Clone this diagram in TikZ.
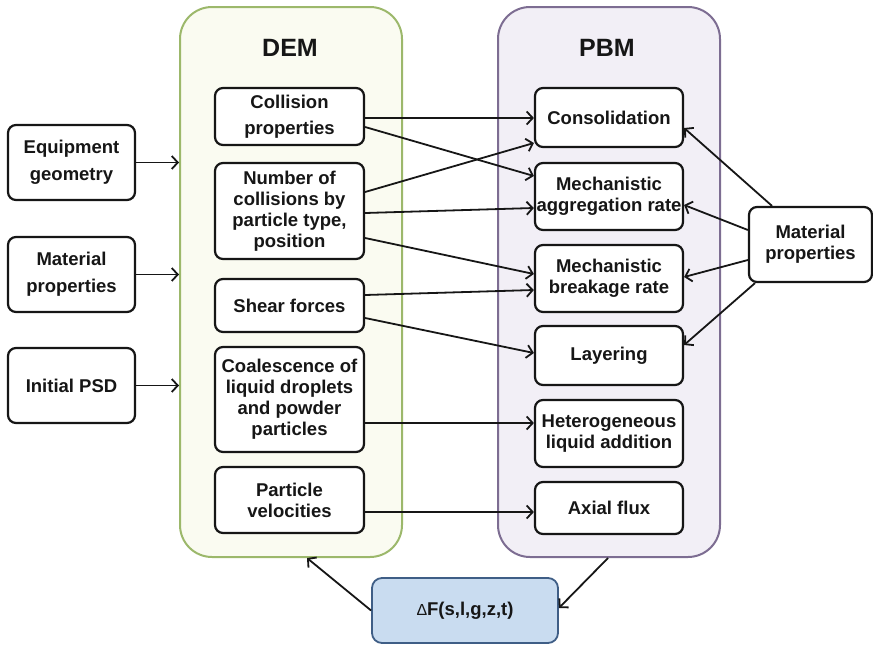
\documentclass[tikz,border=0pt]{standalone}
\usepackage{fontspec}
\setmainfont{Liberation Sans}
\usetikzlibrary{arrows.meta}
\definecolor{demborder}{HTML}{9CB86B}
\definecolor{demfill}{HTML}{FAFBF1}
\definecolor{pbmborder}{HTML}{7D6D92}
\definecolor{pbmfill}{HTML}{F2EFF6}
\definecolor{dfborder}{HTML}{3F5E86}
\definecolor{dffill}{HTML}{C9DCF0}
\definecolor{ink}{HTML}{161616}
\tikzset{
  box/.style={draw=ink, line width=2.2pt, rounded corners=8pt, fill=white, align=center,
    inner sep=0pt, text=ink, font=\bfseries\fontsize{18.5}{21}\selectfont},
  container/.style={line width=2pt, rounded corners=32pt, inner sep=0pt},
  title/.style={text=ink, font=\bfseries\fontsize{25}{30}\selectfont, inner sep=0pt},
  conn/.style={draw=ink, line width=1.8pt, -{Straight Barb[length=6pt,width=13pt,line width=1.8pt]}},
}
\begin{document}
\begin{tikzpicture}[x=1pt,y=-1pt]
\useasboundingbox (0,0) rectangle (873,645);
% containers
\node[container, draw=demborder, fill=demfill, minimum width=222pt, minimum height=550pt] (dem) at (291,282) {};
\node[container, draw=pbmborder, fill=pbmfill, minimum width=222pt, minimum height=550pt] (pbm) at (609,282) {};
\node[title] (demt) at (290,48) {DEM};
\node[title] (pbmt) at (607,48) {PBM};
% left inputs
\node[box, minimum width=127pt, minimum height=75pt, font=\bfseries\fontsize{18.5}{27}\selectfont] (eq) at (71.5,162.5) {Equipment\\geometry};
\node[box, minimum width=127pt, minimum height=75pt, font=\bfseries\fontsize{18.5}{27}\selectfont] (mat) at (71.5,274.5) {Material\\properties};
\node[box, minimum width=127pt, minimum height=75pt] (psd) at (71.5,385.5) {Initial PSD};
% DEM inner boxes
\node[box, minimum width=149pt, minimum height=57pt, font=\bfseries\fontsize{18.5}{26}\selectfont] (coll) at (289.5,116.5) {Collision\\properties};
\node[box, minimum width=149pt, minimum height=96pt] (num) at (289.5,211) {Number of\\collisions by\\particle type,\\position};
\node[box, minimum width=149pt, minimum height=53pt] (shear) at (289.5,305.5) {Shear forces};
\node[box, minimum width=149pt, minimum height=105pt] (coal) at (289.5,399.5) {Coalescence of\\liquid droplets\\and powder\\particles};
\node[box, minimum width=149pt, minimum height=66pt] (vel) at (289.5,500) {Particle\\velocities};
% PBM inner boxes
\node[box, minimum width=148pt, minimum height=59pt] (cons) at (609,117.5) {Consolidation};
\node[box, minimum width=148pt, minimum height=67pt] (agg) at (609,196.5) {Mechanistic\\aggregation rate};
\node[box, minimum width=148pt, minimum height=67pt] (brk) at (609,278.5) {Mechanistic\\breakage rate};
\node[box, minimum width=148pt, minimum height=59pt] (lay) at (609,355.5) {Layering};
\node[box, minimum width=148pt, minimum height=67pt] (het) at (609,433.5) {Heterogeneous\\liquid addition};
\node[box, minimum width=148pt, minimum height=52pt] (ax) at (609,508) {Axial flux};
% right input
\node[box, minimum width=123pt, minimum height=75pt] (mp) at (810.5,244.5) {Material\\properties};
% feedback box
\node[box, draw=dfborder, fill=dffill, minimum width=186pt, minimum height=65pt, line width=1.8pt, rounded corners=10pt] (df) at (465,610.5) {{\mdseries\fontsize{16}{18}\selectfont Δ}F(s,l,g,z,t)};
% inputs to DEM
\draw[conn] (eq.east) -- (eq.east -| dem.west);
\draw[conn] (mat.east) -- (mat.east -| dem.west);
\draw[conn] (psd.east) -- (psd.east -| dem.west);
% DEM -> PBM
\draw[conn] ([yshift=-1.5pt]coll.east) -- ([yshift=-0.5pt]cons.west);
\draw[conn] ([yshift=-10.5pt]coll.east) -- ([yshift=20.5pt]agg.west);
\draw[conn] ([yshift=19pt]num.east) -- ([yshift=-25.5pt]cons.west);
\draw[conn] ([yshift=-2pt]num.east) -- ([yshift=-11.5pt]agg.west);
\draw[conn] ([yshift=-27pt]num.east) -- ([yshift=4.5pt]brk.west);
\draw[conn] ([yshift=10.5pt]shear.east) -- ([yshift=-11.5pt]brk.west);
\draw[conn] ([yshift=-12.5pt]shear.east) -- ([yshift=2.5pt]lay.west);
\draw[conn] ([yshift=-23.5pt]coal.east) -- ([yshift=10.5pt]het.west);
\draw[conn] ([yshift=-12pt]vel.east) -- ([yshift=-4pt]ax.west);
% material properties -> PBM
\draw[conn] ([xshift=-38.5pt]mp.north) -- ([yshift=-10.5pt]cons.east);
\draw[conn] ([yshift=14.5pt]mp.west) -- ([yshift=-8.5pt]agg.east);
\draw[conn] ([yshift=-15.5pt]mp.west) -- ([yshift=1.5pt]brk.east);
\draw[conn] ([xshift=-55.5pt]mp.south) -- ([yshift=10.5pt]lay.east);
% feedback
\draw[conn] ([xshift=-1pt]pbm.south) -- ([yshift=2.5pt]df.east);
\draw[conn] (df.west) -- ([xshift=16pt]dem.south);
\end{tikzpicture}
\end{document}
